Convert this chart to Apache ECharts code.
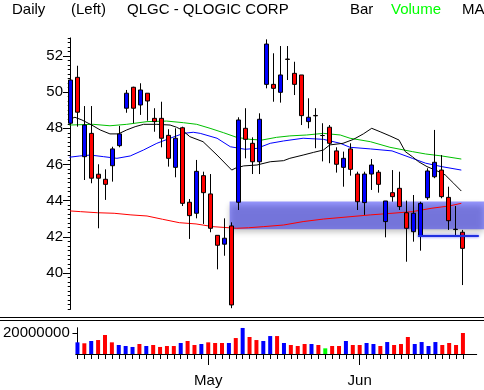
<!DOCTYPE html>
<html><head><meta charset="utf-8">
<script src="https://cdn.jsdelivr.net/npm/echarts@6/dist/echarts.min.js"></script>
<style>html,body{margin:0;padding:0;background:#fff}#c{width:484px;height:390px}</style>
</head><body><div id="c"></div>
<script>
// ---- data ----
const opens  = [48.28,50.82,46.43,47.72,45.46,45.18,45.93,47.04,49.11,50.27,49.29,49.94,48.55,48.55,47.61,45.84,48.03,43.91,43.30,45.38,44.37,42.08,41.59,42.60,43.91,48.00,47.17,46.15,50.43,50.43,49.99,51.83,51.04,50.95,48.37,48.71,47.60,48.06,46.75,45.84,46.86,45.47,43.89,45.47,45.57,42.84,44.44,44.68,43.33,42.28,42.04,44.16,45.32,45.69,44.18,42.42,42.25];
const closes = [50.67,48.89,48.18,45.24,45.24,44.90,46.86,47.69,49.94,49.11,50.12,49.51,48.37,47.45,46.34,47.45,43.85,43.17,45.62,44.44,42.47,41.53,41.92,38.23,48.46,47.39,46.15,48.50,52.66,50.21,50.95,51.81,50.43,48.70,48.61,48.69,47.60,47.17,46.01,46.34,45.73,43.94,45.47,45.97,44.90,43.98,44.22,43.67,42.47,43.30,43.85,45.64,46.12,44.22,42.89,42.40,41.36];
const lows   = [48.20,48.09,45.14,44.96,42.47,44.04,45.05,46.95,48.86,48.28,48.74,48.42,47.81,46.95,45.88,45.29,43.70,41.88,43.02,42.71,42.25,40.20,40.95,38.05,43.48,46.34,45.47,45.47,50.21,49.47,49.42,50.67,49.84,48.18,48.00,46.90,46.17,46.07,45.55,44.77,45.38,43.48,43.21,44.59,44.44,41.97,43.94,43.48,40.62,41.73,41.23,44.04,45.24,44.13,42.38,42.04,39.33];
const highs  = [51.13,51.46,49.23,49.23,46.01,45.73,46.98,48.13,50.12,50.30,50.49,49.94,49.11,49.47,47.95,48.00,48.09,44.09,46.25,45.60,45.47,42.08,43.02,42.80,48.61,49.11,47.50,48.83,52.92,52.15,52.55,52.55,51.68,50.95,49.66,49.11,48.28,48.18,46.95,46.71,47.17,45.60,45.60,46.30,45.69,43.98,45.69,45.60,44.00,44.31,43.94,45.79,47.91,46.52,44.77,43.70,42.38];
const volumes = [11100000,10200000,12400000,13300000,18100000,11100000,8600000,7600000,6700000,9500000,7600000,8600000,6700000,7600000,7600000,10500000,12400000,8600000,9500000,11100000,10500000,10500000,10500000,15200000,24800000,16200000,13300000,12400000,17100000,17100000,10500000,8600000,7600000,9500000,9500000,8600000,5400000,7600000,7600000,12400000,8600000,8600000,10500000,9500000,7600000,11400000,8600000,9500000,16200000,9500000,11400000,7600000,11400000,8600000,10500000,8600000,20000000];
const monthTickIdx = [19, 41];
const monthNames = ['May', 'Jun'];
const priceTicks = [40, 42, 44, 46, 48, 50, 52];
const volumeTicks = [20000000];
// moving averages: [day index, price]
const maShort = [[-0.2,48.50],[0.6,48.61],[1.6,48.46],[3.0,48.18],[4.2,47.91],[5.6,47.69],[6.8,47.69],[8.0,47.91],[9.2,48.09],[10.4,48.22],[12.3,48.22],[14.2,48.18],[15.1,48.06],[15.9,47.91],[17.0,47.54],[18.9,47.26],[20.9,46.52],[23.0,45.69],[23.5,45.79],[24.7,45.92],[26.6,45.97],[28.5,46.15],[30.4,46.21],[31.3,46.34],[33.2,46.52],[34.7,46.67],[36.1,46.80],[37.0,47.08],[38.9,47.17],[40.4,47.39],[41.8,47.69],[43.0,48.00],[44.2,47.81],[45.6,47.58],[46.9,47.35],[47.8,46.71],[48.8,46.43],[49.7,46.15],[50.9,45.88],[52.1,45.69],[53.5,45.42],[54.7,44.96],[55.8,44.53]];
const maMid = [[-0.2,46.40],[1.3,46.47],[2.8,46.52],[4.7,46.43],[6.6,46.34],[8.5,46.47],[10.4,46.80],[12.3,47.17],[14.2,47.45],[16.1,47.72],[17.5,47.78],[18.5,47.72],[20.9,47.45],[22.8,46.98],[24.9,46.84],[26.6,46.89],[28.5,47.17],[30.4,47.30],[33.2,47.45],[36.1,47.39],[38.5,47.17],[39.9,46.95],[42.8,46.86],[45.9,46.75],[48.8,46.34],[50.7,46.07],[53.0,45.88],[55.8,45.69]];
const maLong = [[-0.2,48.18],[3.2,48.22],[5.6,48.14],[8.0,48.22],[10.9,48.37],[13.7,48.40],[16.1,48.31],[18.0,48.22],[19.9,48.00],[21.8,47.76],[23.7,47.50],[25.6,47.39],[27.3,47.35],[29.4,47.50],[31.3,47.58],[33.7,47.63],[36.1,47.72],[38.5,47.63],[39.9,47.45],[42.8,47.26],[45.6,46.95],[48.8,46.71],[50.7,46.58],[53.0,46.47],[55.8,46.30]];
const maVeryLong = [[-0.1,43.43],[1.4,43.39],[3.8,43.33],[6.2,43.30],[8.6,43.21],[10.9,43.15],[13.1,42.97],[15.5,42.78],[17.9,42.71],[20.3,42.56],[23.7,42.47],[25.4,42.50],[27.5,42.56],[30.4,42.65],[33.2,42.84],[36.1,42.98],[39.9,43.11],[42.8,43.21],[45.9,43.30],[48.8,43.39],[51.6,43.58],[54.0,43.70],[55.8,43.85]];
const zoneFrom = 22.7, zoneTo = 59.1, zoneHigh = 43.95, zoneLow = 42.42;
const supportLine = [[49.6, 42.04], [58.3, 42.04]];

// ---- build ----
const FONT = 'Liberation Sans, Arial, sans-serif';
const candleData = opens.map((o, i) => [i, o, closes[i], lows[i], highs[i]]);
const volData = volumes.map((v, i) => ({
  value: [i, v],
  itemStyle: { color: closes[i] > opens[i] ? '#0000ff' : (closes[i] < opens[i] ? '#ff0000' : '#00ff00') }
}));
const dayIdx = opens.map((_, i) => i);

const chart = echarts.init(document.getElementById('c'), null, { renderer: 'canvas' });
const lineS = (data, color) => ({
  type: 'line', data, xAxisIndex: 0, yAxisIndex: 0, symbol: 'none', z: 2,
  lineStyle: { color, width: 1 }, silent: true
});
chart.setOption({
  animation: false,
  backgroundColor: '#fff',
  grid: [
    { left: 69, top: 37.9, width: 415, height: 271.2 },
    { left: 69, top: 327.75, width: 407.7, height: 26.25 }
  ],
  xAxis: [
    { gridIndex: 0, type: 'value', min: -0.25, max: 59.04, show: false },
    { gridIndex: 1, type: 'value', min: -0.25, max: 58, position: 'bottom',
      axisLine: { show: true, lineStyle: { color: '#000', width: 1 } },
      axisTick: { show: true, customValues: dayIdx, length: 5, lineStyle: { color: '#000' } },
      axisLabel: { show: false }, splitLine: { show: false } },
    { gridIndex: 1, type: 'value', min: -0.25, max: 58, position: 'bottom',
      axisLine: { show: false },
      axisTick: { show: true, customValues: monthTickIdx, length: 11, lineStyle: { color: '#000' } },
      axisLabel: { show: true, customValues: monthTickIdx, margin: 19, color: '#000', fontSize: 15, fontFamily: FONT,
        formatter: v => monthNames[monthTickIdx.indexOf(v)] || '' },
      splitLine: { show: false } }
  ],
  yAxis: [
    { gridIndex: 0, type: 'value', min: 38, max: 53, interval: 0.25, position: 'left',
      axisLine: { show: true, lineStyle: { color: '#000', width: 1 } },
      axisTick: { show: true, length: 3, lineStyle: { color: '#000' } },
      axisLabel: { show: true, customValues: priceTicks, margin: 6, color: '#000', fontSize: 15, fontFamily: FONT },
      splitLine: { show: false } },
    { gridIndex: 0, type: 'value', min: 38, max: 53, position: 'left',
      axisLine: { show: false },
      axisTick: { show: true, customValues: priceTicks, length: 6, lineStyle: { color: '#000' } },
      axisLabel: { show: false }, splitLine: { show: false } },
    { gridIndex: 1, type: 'value', min: 0, max: 25000000, position: 'left',
      axisLine: { show: true, lineStyle: { color: '#000', width: 1 } },
      axisTick: { show: true, customValues: volumeTicks, length: 5, lineStyle: { color: '#000' } },
      axisLabel: { show: true, customValues: volumeTicks, margin: 6, color: '#000', fontSize: 15, fontFamily: FONT,
        formatter: v => String(v) },
      splitLine: { show: false } }
  ],
  series: [
    lineS(maVeryLong, '#ff0000'),
    lineS(maLong, '#00c000'),
    lineS(maMid, '#0000ff'),
    lineS(maShort, '#000000'),
    {
      type: 'candlestick', data: candleData, xAxisIndex: 0, yAxisIndex: 0,
      encode: { x: 0, y: [1, 2, 3, 4] }, barWidth: 4, z: 3,
      itemStyle: { color: '#0000ff', color0: '#ff0000', borderColor: '#000', borderColor0: '#000', borderColorDoji: '#000', borderWidth: 1 }
    },
    {
      type: 'line', data: supportLine, xAxisIndex: 0, yAxisIndex: 0, symbol: 'none', z: 10,
      lineStyle: { color: '#2030e0', width: 2, shadowBlur: 3, shadowColor: 'rgba(0,0,255,0.6)' },
      markArea: {
        silent: true,
        itemStyle: { color: 'rgba(0,0,255,0.4)', shadowBlur: 6, shadowOffsetY: 3, shadowColor: 'rgba(0,0,0,0.6)' },
        data: [[{ coord: [zoneFrom, zoneHigh] }, { coord: [zoneTo, zoneLow] }]]
      }
    },
    {
      type: 'bar', data: volData, xAxisIndex: 1, yAxisIndex: 2, barWidth: 4
    }
  ],
  graphic: [
    { type: 'text', x: 12, y: 10, style: { text: 'Daily', font: '15px ' + FONT, fill: '#000', verticalAlign: 'middle' } },
    { type: 'text', x: 71, y: 10, style: { text: '(Left)', font: '15px ' + FONT, fill: '#000', verticalAlign: 'middle' } },
    { type: 'text', x: 127, y: 10, style: { text: 'QLGC - QLOGIC CORP', font: '15px ' + FONT, fill: '#000', verticalAlign: 'middle' } },
    { type: 'text', x: 350, y: 10, style: { text: 'Bar', font: '15px ' + FONT, fill: '#000', verticalAlign: 'middle' } },
    { type: 'text', x: 391, y: 10, style: { text: 'Volume', font: '15px ' + FONT, fill: '#00ff00', verticalAlign: 'middle' } },
    { type: 'text', x: 462, y: 10, style: { text: 'MA', font: '15px ' + FONT, fill: '#000', verticalAlign: 'middle' } },
    { type: 'line', shape: { x1: 0, y1: 317.5, x2: 484, y2: 317.5 }, style: { stroke: '#000', lineWidth: 1 } },
    { type: 'line', shape: { x1: 0, y1: 320.5, x2: 484, y2: 320.5 }, style: { stroke: '#000', lineWidth: 1 } }
  ]
});
</script>
</body></html>
